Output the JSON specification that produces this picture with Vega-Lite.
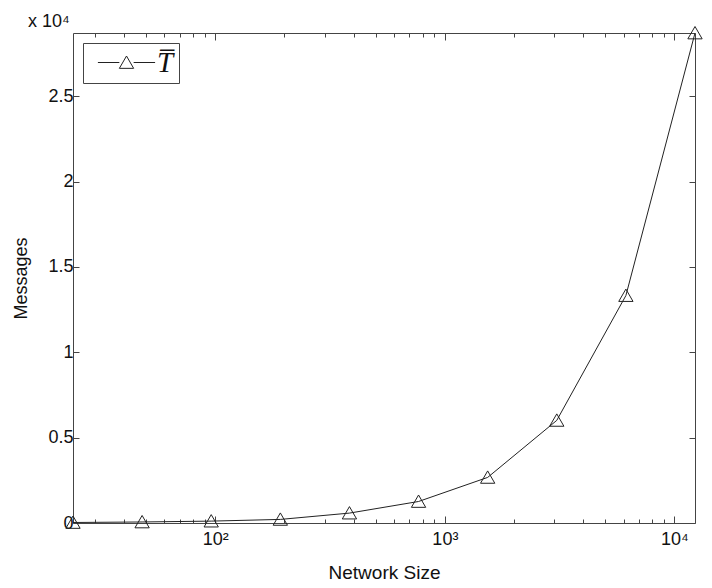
{
  "$schema": "https://vega.github.io/schema/vega-lite/v6.json",
  "width": 622,
  "height": 490,
  "autosize": "none",
  "padding": {"left": 73, "top": 33, "right": 17, "bottom": 65},
  "background": "white",
  "title": {
    "text": "x 10⁴",
    "anchor": "start",
    "frame": "group",
    "dx": -45,
    "dy": 1,
    "offset": -19,
    "baseline": "alphabetic",
    "font": "Liberation Sans",
    "fontSize": 18,
    "fontWeight": "normal",
    "color": "#111"
  },
  "config": {
    "view": {"stroke": null},
    "font": "Liberation Sans"
  },
  "data": {
    "values": [
      {"size": 24, "messages": 30, "series": "T\u0305"},
      {"size": 48, "messages": 60, "series": "T\u0305"},
      {"size": 96, "messages": 110, "series": "T\u0305"},
      {"size": 192, "messages": 210, "series": "T\u0305"},
      {"size": 384, "messages": 580, "series": "T\u0305"},
      {"size": 768, "messages": 1260, "series": "T\u0305"},
      {"size": 1536, "messages": 2670, "series": "T\u0305"},
      {"size": 3072, "messages": 6010, "series": "T\u0305"},
      {"size": 6144, "messages": 13320, "series": "T\u0305"},
      {"size": 12288, "messages": 28700, "series": "T\u0305"}
    ]
  },
  "layer": [
    {
      "mark": {"type": "line", "strokeWidth": 1},
      "encoding": {
        "x": {
          "field": "size",
          "type": "quantitative",
          "scale": {"type": "log", "domain": [24, 12288], "nice": false},
          "axis": {
            "orient": "bottom",
            "title": "Network Size",
            "titleFont": "Liberation Sans",
            "titleFontSize": 19,
            "titleFontWeight": "normal",
            "titleColor": "#111",
            "titlePadding": 12,
            "values": [30, 40, 50, 60, 70, 80, 90, 100, 200, 300, 400, 500, 600, 700, 800, 900, 1000, 2000, 3000, 4000, 5000, 6000, 7000, 8000, 9000, 10000],
            "labelExpr": "datum.value == 100 ? '10²' : datum.value == 1000 ? '10³' : datum.value == 10000 ? '10⁴' : ''",
            "labelFont": "Liberation Sans",
            "labelFontSize": 18,
            "labelColor": "#111",
            "labelPadding": 14,
            "labelFlush": false,
            "labelOverlap": false,
            "grid": false,
            "domainColor": "#444",
            "tickColor": "#444",
            "tickSize": {"condition": {"test": "datum.value == 100 || datum.value == 1000 || datum.value == 10000", "value": -7}, "value": -4}
          }
        },
        "y": {
          "field": "messages",
          "type": "quantitative",
          "scale": {"domain": [0, 28700], "nice": false},
          "axis": {
            "orient": "left",
            "title": "Messages",
            "titleFont": "Liberation Sans",
            "titleFontSize": 18,
            "titleFontWeight": "normal",
            "titleColor": "#111",
            "titlePadding": 17,
            "values": [0, 5000, 10000, 15000, 20000, 25000],
            "labelExpr": "format(datum.value / 10000, '~g')",
            "labelFont": "Liberation Sans",
            "labelFontSize": 18,
            "labelColor": "#111",
            "labelPadding": 6,
            "labelFlush": false,
            "grid": false,
            "domainColor": "#444",
            "tickColor": "#444",
            "tickSize": -6
          }
        },
        "color": {
          "field": "series",
          "type": "nominal",
          "scale": {"range": ["#222"]},
          "legend": {
            "orient": "top-left",
            "offset": 10,
            "title": null,
            "strokeColor": "#444",
            "fillColor": "white",
            "padding": 5,
            "cornerRadius": 0,
            "symbolType": "M-4.4,0H-1.1M1.1,0H4.4M-1.1,0.9L0,-1L1.1,0.9Z",
            "symbolSize": 169,
            "symbolStrokeWidth": 1,
            "symbolStrokeColor": "#222",
            "symbolFillColor": "transparent",
            "symbolOffset": 24,
            "labelOffset": 16,
            "labelExpr": "datum.label + '\u00a0\u00a0'",
            "labelFont": "Liberation Serif",
            "labelFontStyle": "italic",
            "labelFontSize": 29,
            "labelColor": "#111"
          }
        }
      }
    },
    {
      "mark": {"type": "point", "filled": false, "shape": "M-1.1,0.9L0,-1L1.1,0.9Z", "size": 169, "strokeWidth": 1, "opacity": 1},
      "encoding": {
        "x": {
          "field": "size",
          "type": "quantitative",
          "scale": {"type": "log", "domain": [24, 12288], "nice": false},
          "axis": {
            "orient": "top",
            "title": null,
            "labels": false,
            "values": [30, 40, 50, 60, 70, 80, 90, 100, 200, 300, 400, 500, 600, 700, 800, 900, 1000, 2000, 3000, 4000, 5000, 6000, 7000, 8000, 9000, 10000],
            "grid": false,
            "domainColor": "#444",
            "tickColor": "#444",
            "tickSize": {"condition": {"test": "datum.value == 100 || datum.value == 1000 || datum.value == 10000", "value": -7}, "value": -4}
          }
        },
        "y": {
          "field": "messages",
          "type": "quantitative",
          "scale": {"domain": [0, 28700], "nice": false},
          "axis": {
            "orient": "right",
            "title": null,
            "labels": false,
            "values": [0, 5000, 10000, 15000, 20000, 25000],
            "grid": false,
            "domainColor": "#444",
            "tickColor": "#444",
            "tickSize": -6
          }
        },
        "color": {
          "field": "series",
          "type": "nominal",
          "scale": {"range": ["#222"]}
        }
      }
    }
  ],
  "resolve": {"axis": {"x": "independent", "y": "independent"}}
}
